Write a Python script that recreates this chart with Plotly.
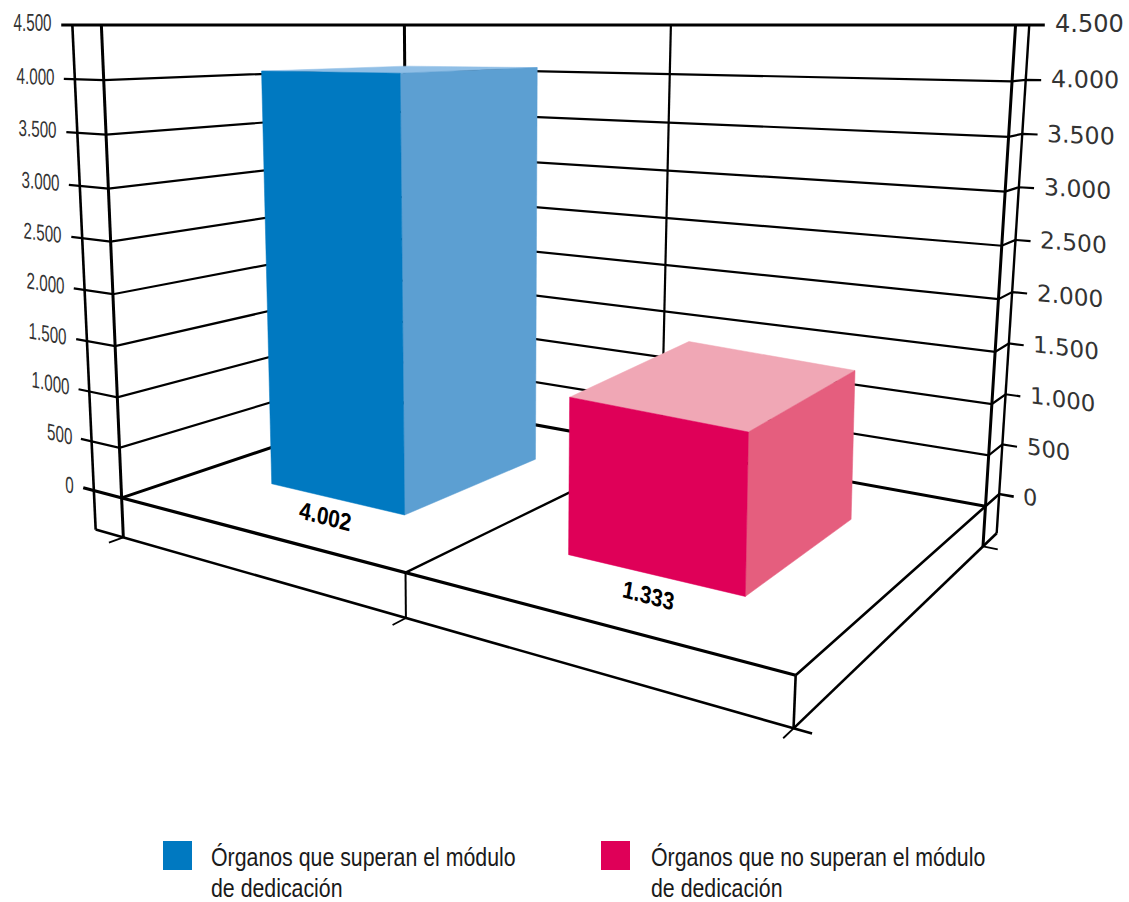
import json
import numpy as np
import plotly.graph_objects as go

# ---- chart data ----
CATEGORIES = ["Órganos que superan el módulo<br>de dedicación",
              "Órganos que no superan el módulo<br>de dedicación"]
VALUES = [4002, 1333]
VALUE_LABELS = ["4.002", "1.333"]
TICK_VALUES = [0, 500, 1000, 1500, 2000, 2500, 3000, 3500, 4000, 4500]
TICK_LABELS = ["0", "500", "1.000", "1.500", "2.000", "2.500", "3.000", "3.500", "4.000", "4.500"]

# ---- colours ----
FRONT = ["#0079C1", "#DF0058"]
SIDE = ["#5C9FD2", "#E55E7E"]
TOP = ["#90BFE6", "#F0A7B5"]

LEFT_OUT, LEFT_TICK, RIGHT_OUT, TICK_X, TICK_Z, BASE = -0.115, -0.16, -0.10, 2.04, 1.04, -400

# ---- perspective camera of the walls: (category, depth, value) seen at (px, py) ----
CAMERA_WORLD = [(0, 1, 4500), (0, 1, 2000), (0, 1, 0), (2, 0, 4500), (2, 0, 2000), (2, 0, 0),
                (0, 0, 4500), (0, 0, 0), (1, 0, 4500), (1, 0, 0), (1, 1, 0), (2, 1, 0),
                (1, 1, -400), (2, 1, -400), (0, 1, -400), (2, 0, -400),
                (-0.16, 1, 4500), (2, -0.1, 4500), (0, 1, 4000), (2, 0, 4000), (0, 1, 1000), (2, 0, 1000),
                (LEFT_OUT, 1, 4500), (LEFT_OUT, 1, -400)]
CAMERA_IMAGE = [(102, 25), (115, 293), (124, 496), (1015.7, 25), (999, 299), (986, 507),
                (405, 25), (404, 400), (670.7, 25), (660, 448), (407, 572), (795, 672),
                (407, 620), (792, 730), (125, 538), (984, 548),
                (60, 25), (1029, 25), (105.5, 80), (1012, 81), (118, 396), (992, 404),
                (72, 25), (95, 530)]
CAMERA_WEIGHT = [3, 1, 1, 3, 1, 1, 3, 1, 3, 1, 1, 1, 1, 1, 1, 1, 3, 3, 1, 1, 1, 1, 2, 2]

# ---- each bar was drawn with its own slightly different perspective ----
BAR_HALF_W, BAR_Z0, BAR_Z1 = 0.24, 0.25, 0.75
BAR_CAMERA_WORLD = [
    [(0.26, 0.75, 0), (0.74, 0.75, 0), (0.74, 0.25, 0),
     (0.26, 0.75, 4002), (0.74, 0.75, 4002), (0.74, 0.25, 4002), (0.26, 0.25, 4002)],
    [(1.26, 0.75, 0), (1.74, 0.75, 0), (1.74, 0.25, 0),
     (1.26, 0.75, 1333), (1.74, 0.75, 1333), (1.74, 0.25, 1333), (1.26, 0.25, 1333)],
]
BAR_CAMERA_IMAGE = [
    [(272, 484), (404, 515), (535.7, 459), (262, 71), (400, 73), (537.7, 68), (405, 66)],
    [(568, 554), (746, 595.7), (851, 520.7), (569, 397.7), (749, 433), (854, 369), (690, 341.7)],
]


def fit_camera(world, image, weight=None):
    rows = []
    weight = weight or [1] * len(world)
    for (X, Z, V), (u, v), k in zip(world, image, weight):
        p = [X, Z, V / 1000, 1]
        u, v = u / 1000, v / 1000
        rows.append([k * c for c in p + [0, 0, 0, 0] + [-u * c for c in p]])
        rows.append([k * c for c in [0, 0, 0, 0] + p + [-v * c for c in p]])
    _, _, vt = np.linalg.svd(np.array(rows, float))
    return vt[-1].reshape(3, 4)


CAM = fit_camera(CAMERA_WORLD, CAMERA_IMAGE, CAMERA_WEIGHT)
BAR_CAMS = [fit_camera(w, im) for w, im in zip(BAR_CAMERA_WORLD, BAR_CAMERA_IMAGE)]


def project(X, Z, V, cam=CAM):
    a, b, c = cam @ np.array([X, Z, V / 1000, 1.0])
    return a / c * 1000, b / c * 1000


def path(points, cam=CAM):
    xy = [project(*p, cam) for p in points]
    return [q[0] for q in xy], [q[1] for q in xy]


fig = go.Figure()


def line(points, width=2.0):
    x, y = path(points)
    fig.add_trace(go.Scatter(x=x, y=y, mode="lines", line=dict(color="#000000", width=width),
                             hoverinfo="skip", showlegend=False))


def face(points, color, name, cam):
    x, y = path(points, cam)
    fig.add_trace(go.Scatter(x=x, y=y, mode="lines", fill="toself", fillcolor=color,
                             line=dict(color=color, width=0.5), name=name,
                             hoverinfo="skip", showlegend=False))


TOPV = TICK_VALUES[-1]

# gridlines on both walls, with their ticks
for tv in TICK_VALUES:
    if tv == 0:
        line([(TICK_X, RIGHT_OUT, 0), (2, RIGHT_OUT, 0), (2, 1, 0)], 2.6)
        line([(2, 0, 0), (0, 0, 0), (0, 1, 0)], 3.0)
        line([(LEFT_TICK, 1, 0), (2, 1, 0)], 3.2)
    else:
        line([(LEFT_TICK, 1, tv), (0, 1, tv), (0, 0, tv), (2, 0, tv), (2, RIGHT_OUT, tv), (TICK_X, RIGHT_OUT, tv)],
             3.0 if tv == TOPV else 2.2)

# wall edges and base
for X, Z, lo, wd in [(LEFT_OUT, 1, BASE, 2.6), (0, 1, BASE, 3.0), (2, 0, BASE, 3.0), (2, RIGHT_OUT, BASE, 2.4),
                     (0, 0, 0, 3.0), (1, 0, 0, 2.2)]:
    line([(X, Z, TOPV), (X, Z, lo)], wd)
line([(1, 1, 0), (1, 0, 0)], 2.4)
line([(1, 1, 0), (1, 1, BASE)], 2.0)
line([(2, 1, 0), (2, 1, BASE)], 2.6)
line([(LEFT_OUT, 1, BASE), (TICK_X, 1, BASE)], 2.6)
line([(2, 1, BASE), (2, RIGHT_OUT, BASE)], 2.6)
line([(2, 0, BASE), (TICK_X, 0, BASE)], 1.8)
for X in (0, 1, 2):
    line([(X, 1, BASE), (X, TICK_Z, BASE)], 1.8)

# bars
for i, val in enumerate(VALUES):
    c = i + 0.5
    x0, x1 = c - BAR_HALF_W, c + BAR_HALF_W
    cam = BAR_CAMS[i]
    face([(x0, BAR_Z1, val), (x1, BAR_Z1, val), (x1, BAR_Z0, val), (x0, BAR_Z0, val), (x0, BAR_Z1, val)], TOP[i], CATEGORIES[i], cam)
    face([(x1, BAR_Z1, 0), (x1, BAR_Z0, 0), (x1, BAR_Z0, val), (x1, BAR_Z1, val), (x1, BAR_Z1, 0)], SIDE[i], CATEGORIES[i], cam)
    face([(x0, BAR_Z1, 0), (x1, BAR_Z1, 0), (x1, BAR_Z1, val), (x0, BAR_Z1, val), (x0, BAR_Z1, 0)], FRONT[i], CATEGORIES[i], cam)


def slope_deg(X0, Z, V, X1):
    a, b = project(X0, Z, V), project(X1, Z, V)
    return float(np.degrees(np.arctan2(b[1] - a[1], b[0] - a[0])))


annotations = []
skews = []
NARROW = "Liberation Sans"


def note(angle=0.0, **kw):
    annotations.append(dict(xref="x", yref="y", showarrow=False, yanchor="middle", **kw))
    skews.append(round(angle, 2))


for tv, lab in zip(TICK_VALUES, TICK_LABELS):
    low = 1 - tv / TOPV
    px, py = project(LEFT_TICK, 1, tv)
    note(angle=slope_deg(LEFT_TICK, 1, tv, 0), x=px, y=py, text=lab, xanchor="right", align="right",
         xshift=-7, yshift=2, font=dict(family=NARROW, size=23, color="#333333"))
    px, py = project(TICK_X, RIGHT_OUT, tv)
    note(angle=slope_deg(2, RIGHT_OUT, tv, TICK_X), x=px, y=py, text=lab, xanchor="left", align="left",
         xshift=8 - 0.5 * low, yshift=1,
         font=dict(family="DejaVu Sans", size=24 - 1.5 * low, color="#333333"))

VALUE_LABEL_X = [0.565, 1.548]
for lab, lx in zip(VALUE_LABELS, VALUE_LABEL_X):
    px, py = project(lx, 0.84, 0)
    note(angle=slope_deg(int(lx), 1, 0, int(lx) + 1), x=px, y=py, text="<b><i>%s</i></b>" % lab, xanchor="center",
         font=dict(family=NARROW, size=25, color="#000000"))

# legend
LEGEND_X = [163, 601]
LEGEND_TEXT_X = [209, 649]
LEGEND_LINE_Y = [857, 888]
shapes = []
for i, name in enumerate(CATEGORIES):
    lx = LEGEND_X[i]
    shapes.append(dict(type="rect", xref="x", yref="y", x0=lx, x1=lx + 29, y0=841, y1=870,
                       fillcolor=FRONT[i], line=dict(width=0)))
    for part, ly in zip(name.split("<br>"), LEGEND_LINE_Y):
        note(x=LEGEND_TEXT_X[i], y=ly, text=part, xanchor="left", align="left",
             font=dict(family=NARROW, size=26, color="#1a1a1a"))

fig.update_layout(width=1129, height=902, margin=dict(l=0, r=0, t=0, b=0), showlegend=False,
                  plot_bgcolor="white", paper_bgcolor="white", annotations=annotations, shapes=shapes,
                  xaxis=dict(range=[0, 1129], visible=False),
                  yaxis=dict(range=[902, 0], visible=False))

# the original lettering is condensed and follows the perspective by shearing, not rotating
FINISH = """
document.body.style.margin='0';
var squeeze={'23':0.66,'25':0.82,'26':0.82};
var skews=%s;
document.querySelectorAll('.annotation').forEach(function(g){
  var t=g.querySelector('text.annotation-text');
  if(!t) return;
  var i=parseInt(g.getAttribute('data-index'));
  if((t.style.fontFamily||'').indexOf('Liberation')>=0){
    var k=squeeze[String(parseFloat(t.style.fontSize))];
    if(k){
      t.setAttribute('lengthAdjust','spacingAndGlyphs');
      t.setAttribute('textLength',(t.getComputedTextLength()*k).toFixed(2));
    }
  }
  if(skews[i]){
    var x=t.getAttribute('x'),y=t.getAttribute('y');
    var old=t.getAttribute('transform')||'';
    t.setAttribute('transform',old+' translate('+x+' '+y+') skewY('+skews[i]+') translate('+(-x)+' '+(-y)+')');
  }
});
""" % json.dumps(skews)
fig.write_html("out.html", post_script=FINISH, config=dict(displayModeBar=False))
